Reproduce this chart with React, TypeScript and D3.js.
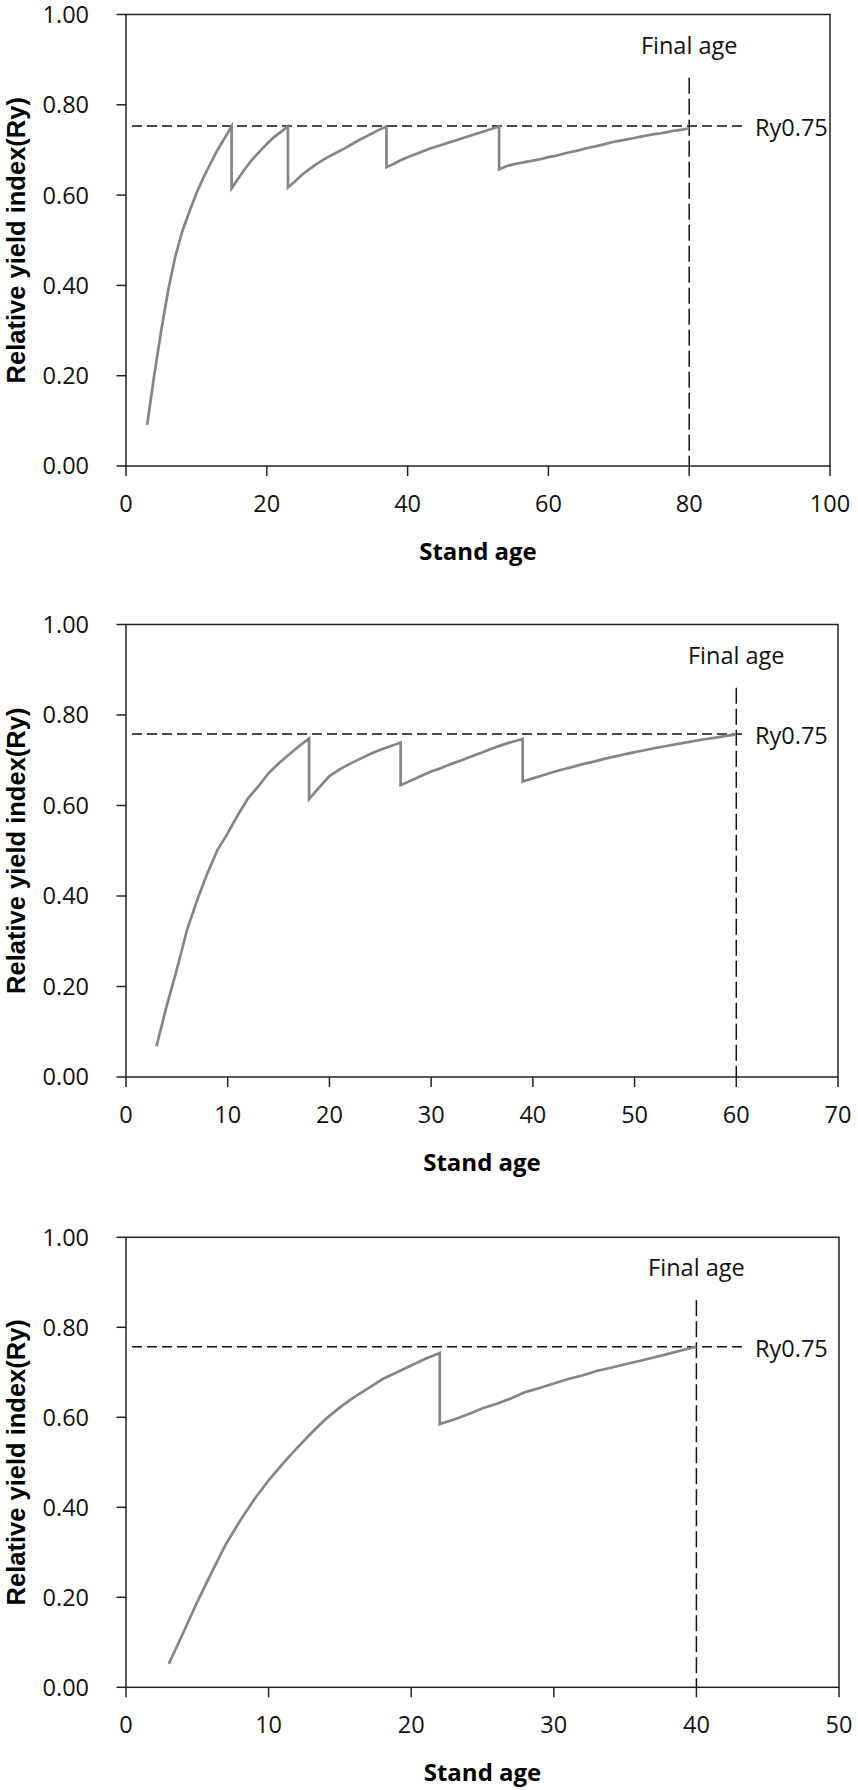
import React from "react";
import * as d3 from "d3";

// ---------- Data ----------
// Panel 1 (final age 80)
const ages1 = [3,4,5,6,7,8,9,10,11,12,13,14,15, 15,16,17,18,19,20,21,22,23, 23,24,25,26,27,28,29,30,31,32,33,34,35,36,37, 37,38,39,40,41,42,43,44,45,46,47,48,49,50,51,52,53, 53,54,55,56,57,58,59,60,61,62,63,64,65,66,67,68,69,70,71,72,73,74,75,76,77,78,79,80];
const ry1 = [0.091,0.20,0.30,0.39,0.464,0.52,0.563,0.604,0.639,0.67,0.70,0.726,0.752,
  0.615,0.638,0.66,0.68,0.697,0.713,0.728,0.74,0.752,
  0.617,0.63,0.645,0.657,0.668,0.678,0.687,0.695,0.703,0.712,0.721,0.729,0.737,0.745,0.752,
  0.662,0.669,0.677,0.684,0.69,0.696,0.702,0.707,0.712,0.717,0.722,0.727,0.732,0.737,0.742,0.747,0.752,
  0.657,0.664,0.668,0.671,0.674,0.677,0.68,0.684,0.687,0.691,0.695,0.698,0.702,0.706,0.709,0.713,0.717,0.72,0.723,0.726,0.729,0.732,0.735,0.737,0.74,0.743,0.745,0.748];
const xTicks1 = [0,20,40,60,80,100];

// Panel 2 (final age 60)
const ages2 = [3,4,5,6,7,8,9,10,11,12,13,14,15,16,17,18, 18,19,20,21,22,23,24,25,26,27, 27,28,29,30,31,32,33,34,35,36,37,38,39, 39,40,41,42,43,44,45,46,47,48,49,50,51,52,53,54,55,56,57,58,59,60];
const ry2 = [0.068,0.157,0.238,0.325,0.391,0.45,0.502,0.539,0.579,0.616,0.642,0.671,0.693,0.712,0.731,0.748,
  0.614,0.64,0.665,0.68,0.692,0.703,0.714,0.723,0.731,0.739,
  0.645,0.655,0.665,0.675,0.683,0.692,0.70,0.709,0.717,0.726,0.734,0.741,0.747,
  0.653,0.66,0.667,0.674,0.68,0.686,0.692,0.697,0.703,0.708,0.713,0.718,0.722,0.727,0.731,0.735,0.739,0.743,0.747,0.75,0.754,0.757];
const xTicks2 = [0,10,20,30,40,50,60,70];

// Panel 3 (final age 40)
const ages3 = [3,4,5,6,7,8,9,10,11,12,13,14,15,16,17,18,19,20,21,22, 22,23,24,25,26,27,28,29,30,31,32,33,34,35,36,37,38,39,40];
const ry3 = [0.052,0.12,0.19,0.255,0.318,0.37,0.418,0.46,0.497,0.532,0.565,0.596,0.622,0.645,0.665,0.685,0.70,0.715,0.73,0.743,
  0.585,0.595,0.607,0.62,0.63,0.642,0.656,0.665,0.675,0.685,0.693,0.703,0.71,0.718,0.725,0.733,0.741,0.749,0.757];
const xTicks3 = [0,10,20,30,40,50];

const yTicks = [0, 0.2, 0.4, 0.6, 0.8, 1.0];
const finalAges = [80, 60, 40];
const thresholds = [0.753, 0.758, 0.757];
const finalLineTop = 0.86;

const xTitle = "Stand age";
const yTitle = "Relative yield index(Ry)";
const finalLabel = "Final age";
const ryLabel = "Ry0.75";

// ---------- Layout ----------
const W = 858;
const H = 1790;
const panels = [
  { left: 126, right: 830, top: 14.5, bottom: 466, ages: ages1, ry: ry1, xTicks: xTicks1 },
  { left: 126, right: 838, top: 624.5, bottom: 1077, ages: ages2, ry: ry2, xTicks: xTicks2 },
  { left: 126, right: 839, top: 1237.3, bottom: 1687.3, ages: ages3, ry: ry3, xTicks: xTicks3 },
];

const tickFont = "'Open Sans', 'Noto Sans', sans-serif";

function Panel({ p, idx }: { p: any; idx: number }) {
  const xMax = p.xTicks[p.xTicks.length - 1];
  const x = d3.scaleLinear().domain([0, xMax]).range([p.left, p.right]);
  const y = d3.scaleLinear().domain([0, 1]).range([p.bottom, p.top]);
  const pts: [number, number][] = p.ages.map((a: number, i: number) => [a, p.ry[i]]);
  const line = d3.line<[number, number]>().x((d) => x(d[0])).y((d) => y(d[1]));
  const fa = finalAges[idx];
  const th = thresholds[idx];
  const axisColor = "#222";
  return (
    <g>
      {/* frame */}
      <rect x={p.left} y={p.top} width={p.right - p.left} height={p.bottom - p.top}
        fill="none" stroke={axisColor} strokeWidth={1.5} />
      {/* y ticks */}
      {yTicks.map((t) => (
        <g key={"y" + t}>
          <line x1={p.left - 9.5} x2={p.left} y1={y(t)} y2={y(t)} stroke={axisColor} strokeWidth={1.5} />
          <text x={89} y={y(t)} dy="0.36em" textAnchor="end" fontFamily={tickFont} fontSize={23.5} fill="#111">
            {t.toFixed(2)}
          </text>
        </g>
      ))}
      {/* x ticks */}
      {p.xTicks.map((t: number) => (
        <g key={"x" + t}>
          <line x1={x(t)} x2={x(t)} y1={p.bottom} y2={p.bottom + 10} stroke={axisColor} strokeWidth={1.5} />
          <text x={x(t)} y={p.bottom + 46} textAnchor="middle" fontFamily={tickFont} fontSize={23.5} fill="#111">
            {t}
          </text>
        </g>
      ))}
      {/* threshold dashed line */}
      <line x1={p.left + 6} x2={744} y1={y(th)} y2={y(th)} stroke="#111" strokeWidth={1.5} strokeDasharray="10 5" />
      <text x={755} y={y(th) + 10} fontFamily={tickFont} fontSize={23.5} fill="#111">{ryLabel}</text>
      {/* final age dashed line */}
      <line x1={x(fa)} x2={x(fa)} y1={y(finalLineTop)} y2={p.bottom} stroke="#111" strokeWidth={1.5} strokeDasharray="16 5" />
      <text x={x(fa)} y={p.top + 39} textAnchor="middle" fontFamily={tickFont} fontSize={23.5} fill="#111">{finalLabel}</text>
      {/* curve */}
      <path d={line(pts) || ""} fill="none" stroke="#858585" strokeWidth={2.7} strokeLinejoin="miter" />
      {/* titles */}
      <text x={(p.left + p.right) / 2} y={p.bottom + 94} textAnchor="middle" fontFamily={tickFont}
        fontWeight="bold" fontSize={24} fill="#000">{xTitle}</text>
      <text transform={`translate(25,${(p.top + p.bottom) / 2}) rotate(-90)`} textAnchor="middle"
        fontFamily="'Liberation Sans', Arial, sans-serif" fontWeight="bold" fontSize={25.5} fill="#000">{yTitle}</text>
    </g>
  );
}

export default function App() {
  return (
    <svg width={W} height={H} viewBox={`0 0 ${W} ${H}`}
      style={{ position: "absolute", left: 0, top: 0, background: "#fff" }}>
      <rect x={0} y={0} width={W} height={H} fill="#fff" />
      {panels.map((p, i) => <Panel key={i} p={p} idx={i} />)}
    </svg>
  );
}
